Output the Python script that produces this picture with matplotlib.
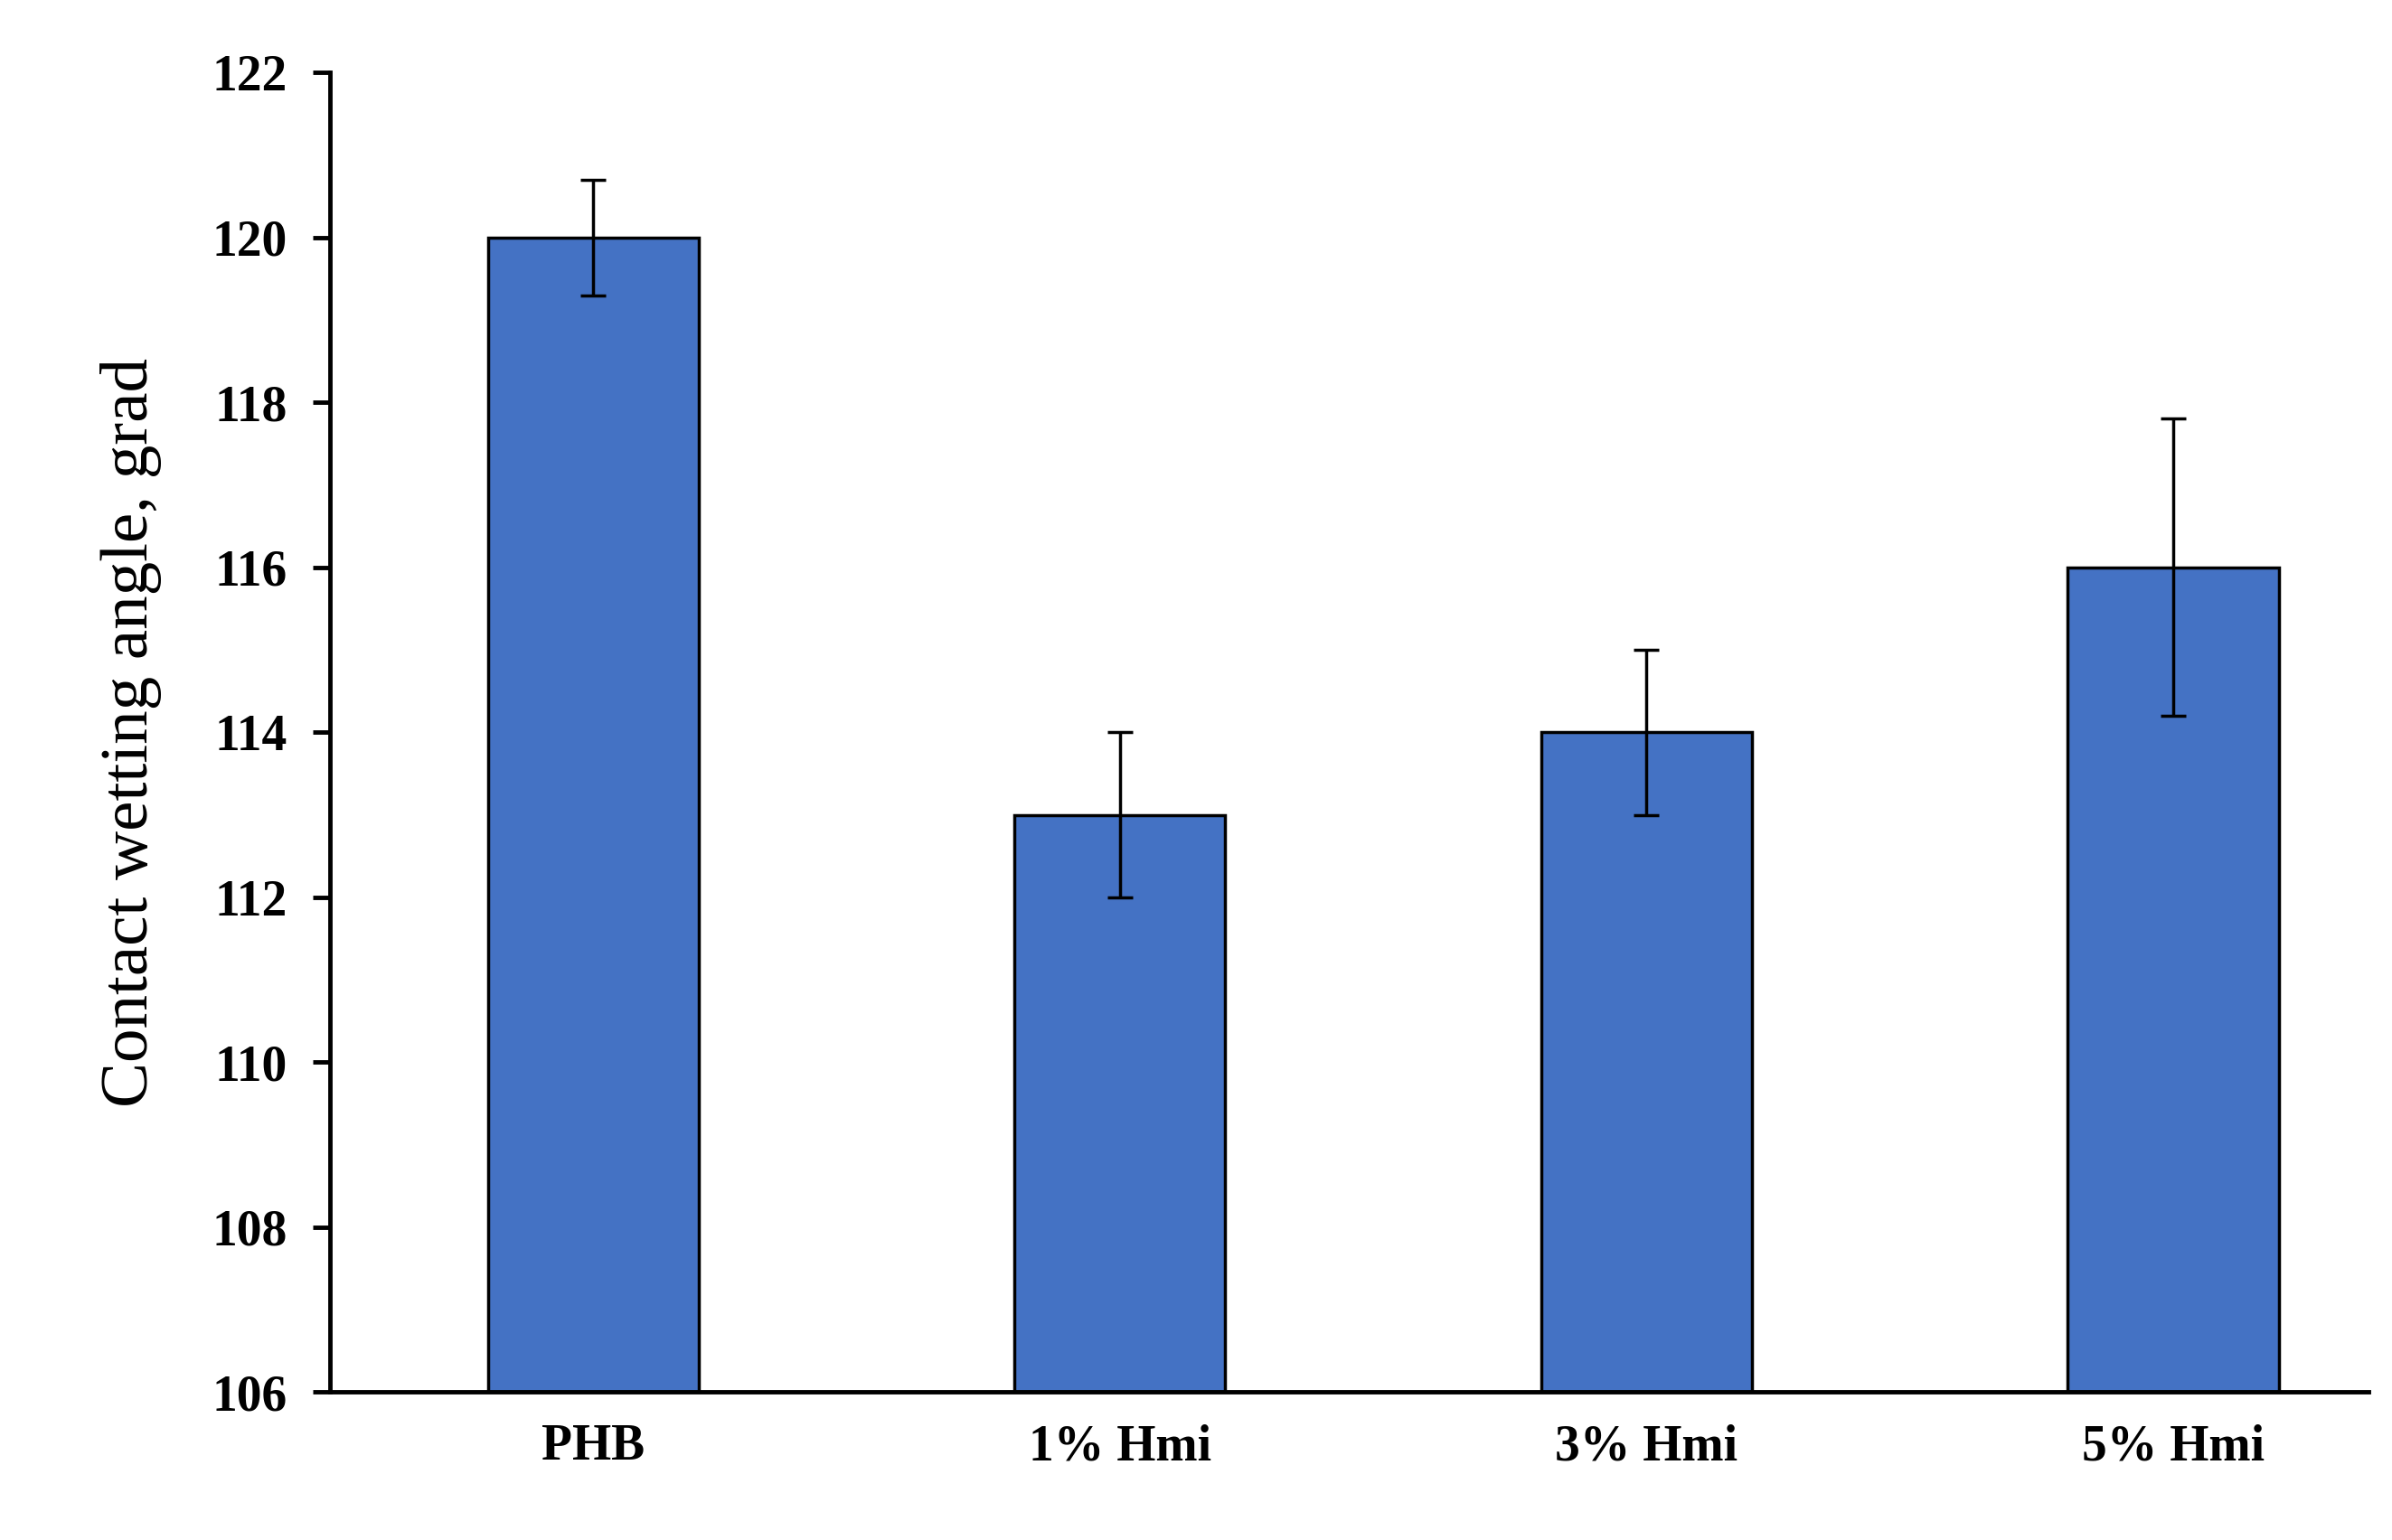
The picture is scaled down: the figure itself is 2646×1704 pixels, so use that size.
import matplotlib
matplotlib.use("Agg")
import matplotlib.pyplot as plt

categories = ["PHB", "1% Hmi", "3% Hmi", "5% Hmi"]
values = [120.0, 113.0, 114.0, 116.0]
errors = [0.7, 1.0, 1.0, 1.8]
yticks = [106, 108, 110, 112, 114, 116, 118, 120, 122]

plt.rcParams['font.family'] = ['Liberation Serif', 'DejaVu Serif']
fig = plt.figure(figsize=(26.46, 17.04), dpi=100)
ax = fig.add_axes([0.138, 0.096, 0.852, 0.857])
x = range(len(categories))
ax.bar(x, [v - 106 for v in values], bottom=106, width=0.4, color='#4472C4',
       edgecolor='black', linewidth=2.5, yerr=errors,
       error_kw=dict(ecolor='black', elinewidth=2.5, capsize=10, capthick=2.5))
ax.set_ylim(106, 122)
ax.set_xlim(-0.5, 3.37)
ax.set_yticks(yticks)
ax.set_xticks(list(x))
ax.set_xticklabels(categories, fontsize=40, fontweight='bold')
ax.set_yticklabels([str(t) for t in yticks], fontsize=40, fontweight='bold')
ax.tick_params(axis='x', length=0, pad=25)
ax.tick_params(axis='y', direction='out', length=14, width=3.5, pad=20)
for s in ['top', 'right']:
    ax.spines[s].set_visible(False)
for s in ['left', 'bottom']:
    ax.spines[s].set_linewidth(3.5)
ax.set_ylabel("Contact wetting angle, grad", fontsize=54, labelpad=40)
fig.savefig("out.png", dpi=100)
